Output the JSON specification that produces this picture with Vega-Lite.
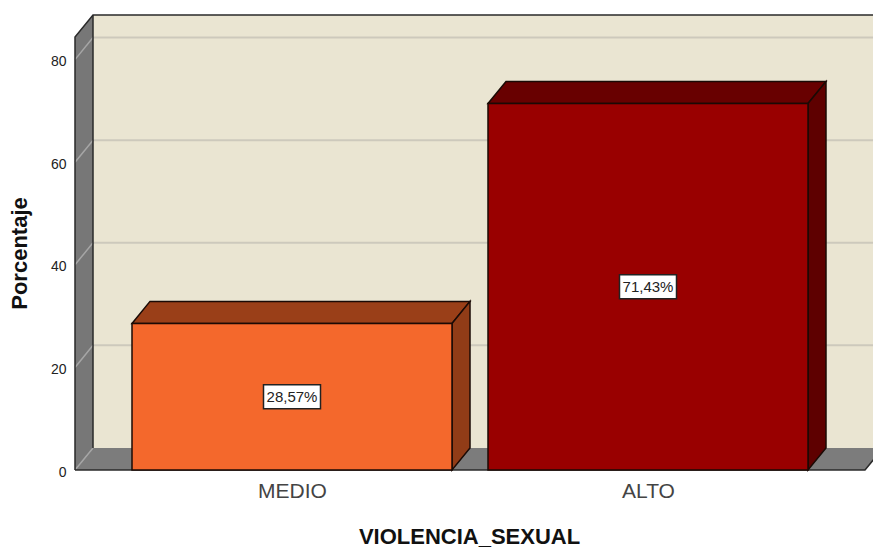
{
"$schema":"https://vega.github.io/schema/vega-lite/v6.json",
"width":798,"height":455,
"autosize":{"type":"none"},
"padding":{"left":75,"top":15,"right":0,"bottom":78},
"background":"white",
"config":{"view":{"stroke":null},"font":"Liberation Sans"},
"encoding":{
 "x":{"field":"x","type":"quantitative","scale":{"domain":[0,798],"nice":false,"zero":false},
  "axis":{"values":[217,573],"labelExpr":"datum.value<400?'MEDIO':'ALTO'","grid":false,"domain":false,"ticks":false,"labelFontSize":21,"labelColor":"#444444","labelPadding":10,"labelFont":"Liberation Sans","title":"VIOLENCIA_SEXUAL","titleFontSize":22,"titleFontWeight":"bold","titleColor":"#111111","titleX":394,"titleY":56,"titleFont":"Liberation Sans"}},
 "y":{"field":"y","type":"quantitative","scale":{"domain":[0,88.7],"nice":false,"zero":false},
  "axis":{"values":[0,20,40,60,80],"grid":false,"domain":false,"ticks":false,"labelFontSize":14,"labelColor":"#222222","labelPadding":9,"labelOffset":2,"labelFont":"Liberation Sans","title":"Porcentaje","titleFontSize":22,"titleFontWeight":"bold","titleColor":"#111111","titleX":-44,"titleY":238,"titleFont":"Liberation Sans"}}
},
"layer":[
 {"data":{"values":[
   {"cara":"pared","x":18,"y":88.7,"y2":4.3},{"cara":"pared","x":808,"y":88.7,"y2":4.3},
   {"cara":"lateral","x":0,"y":84.4,"y2":0},{"cara":"lateral","x":18,"y":88.7,"y2":4.3},
   {"cara":"suelo","x":0,"y":0,"y2":0},{"cara":"suelo","x":18,"y":4.3,"y2":0},{"cara":"suelo","x":790,"y":4.3,"y2":0},{"cara":"suelo","x":808,"y":4.3,"y2":4.3}
  ]},
  "mark":{"type":"area","interpolate":"linear"},
  "encoding":{"y2":{"field":"y2"},"color":{"field":"cara","type":"nominal","legend":null,"scale":{"domain":["pared","lateral","suelo","M-top","M-side","A-top","A-side","MEDIO","ALTO"],"range":["#EAE5D2","#777777","#7C7C7C","#9A3F18","#913C17","#680000","#5E0000","#F4682C","#990000"]}}}},
 {"data":{"values":[
   {"v":"20","x":18,"y":24.3},{"v":"20","x":808,"y":24.3},
   {"v":"40","x":18,"y":44.3},{"v":"40","x":808,"y":44.3},
   {"v":"60","x":18,"y":64.3},{"v":"60","x":808,"y":64.3},
   {"v":"80","x":18,"y":84.3},{"v":"80","x":808,"y":84.3}
  ]},
  "mark":{"type":"line","stroke":"#CDC9BC","strokeWidth":2,"interpolate":"linear"},
  "encoding":{"detail":{"field":"v"}}},
 {"data":{"values":[
   {"v":"0","x":0,"y":0},{"v":"0","x":18,"y":4.3},
   {"v":"20","x":0,"y":20},{"v":"20","x":18,"y":24.3},
   {"v":"40","x":0,"y":40},{"v":"40","x":18,"y":44.3},
   {"v":"60","x":0,"y":60},{"v":"60","x":18,"y":64.3},
   {"v":"80","x":0,"y":80},{"v":"80","x":18,"y":84.3}
  ]},
  "mark":{"type":"line","stroke":"#A6A6A6","strokeWidth":1.5,"interpolate":"linear"},
  "encoding":{"detail":{"field":"v"}}},
 {"data":{"values":[
   {"b":"a","x":0,"y":0},{"b":"a","x":0,"y":84.4},{"b":"a","x":18,"y":88.7},{"b":"a","x":808,"y":88.7},
   {"b":"b","x":18,"y":88.7},{"b":"b","x":18.01,"y":4.3},
   {"b":"c","x":0,"y":0},{"b":"c","x":790,"y":0},{"b":"c","x":808,"y":4.3}
  ]},
  "mark":{"type":"line","stroke":"#2A2A2A","strokeWidth":1.5,"interpolate":"linear"},
  "encoding":{"detail":{"field":"b"}}},
 {"data":{"values":[
   {"cara":"M-top","x":57,"y":28.57,"y2":28.57},{"cara":"M-top","x":75,"y":32.87,"y2":28.57},{"cara":"M-top","x":377,"y":32.87,"y2":28.57},{"cara":"M-top","x":395,"y":32.87,"y2":32.87},
   {"cara":"M-side","x":377,"y":28.57,"y2":0},{"cara":"M-side","x":395,"y":32.87,"y2":4.3},
   {"cara":"A-top","x":413,"y":71.43,"y2":71.43},{"cara":"A-top","x":431,"y":75.73,"y2":71.43},{"cara":"A-top","x":733,"y":75.73,"y2":71.43},{"cara":"A-top","x":751,"y":75.73,"y2":75.73},
   {"cara":"A-side","x":733,"y":71.43,"y2":0},{"cara":"A-side","x":751,"y":75.73,"y2":4.3}
  ]},
  "mark":{"type":"area","interpolate":"linear","stroke":"#1A0A05","strokeWidth":1.5},
  "encoding":{"y2":{"field":"y2"},"color":{"field":"cara","type":"nominal","legend":null}}},
 {"data":{"values":[
   {"cara":"MEDIO","x":57,"x2":377,"y":28.57,"y2":0},
   {"cara":"ALTO","x":413,"x2":733,"y":71.43,"y2":0}
  ]},
  "mark":{"type":"rect","stroke":"#1A0A05","strokeWidth":1.5},
  "encoding":{"x2":{"field":"x2"},"y2":{"field":"y2"},"color":{"field":"cara","type":"nominal","legend":null}}},
 {"data":{"values":[
   {"x":217,"y":14.285,"etiqueta":"28,57%"},{"x":573,"y":35.715,"etiqueta":"71,43%"}
  ]},
  "mark":{"type":"rect","width":57,"height":24,"fill":"white","stroke":"#222222","strokeWidth":1.5}},
 {"data":{"values":[
   {"x":217,"y":14.285,"etiqueta":"28,57%"},{"x":573,"y":35.715,"etiqueta":"71,43%"}
  ]},
  "mark":{"type":"text","fontSize":15,"color":"#222222","align":"center","baseline":"middle"},
  "encoding":{"text":{"field":"etiqueta"}}}
]
}
